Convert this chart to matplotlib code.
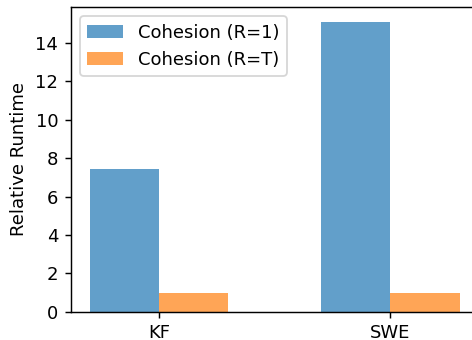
import numpy as np
import matplotlib
matplotlib.use('Agg')
import matplotlib.pyplot as plt

apps = ['KF', 'SWE']
cohesion_r1 = [7.41, 15.10]
cohesion_rt = [1.0, 1.0]

x = np.arange(len(apps))
width = 0.3

dpi = 130
fig = plt.figure(figsize=(472 / dpi, 340 / dpi), dpi=dpi)
ax = fig.add_axes([71 / 472, 28.3 / 340, 407 / 472, 304.4 / 340])

ax.bar(x - width / 2, cohesion_r1, width, color='tab:blue', alpha=0.7, label='Cohesion (R=1)')
ax.bar(x + width / 2, cohesion_rt, width, color='tab:orange', alpha=0.7, label='Cohesion (R=T)')

ax.set_xticks(x)
ax.set_xticklabels(apps)
ax.set_ylabel('Relative Runtime')
ax.legend(loc='upper left')

fig.savefig('out.png', dpi=dpi)
